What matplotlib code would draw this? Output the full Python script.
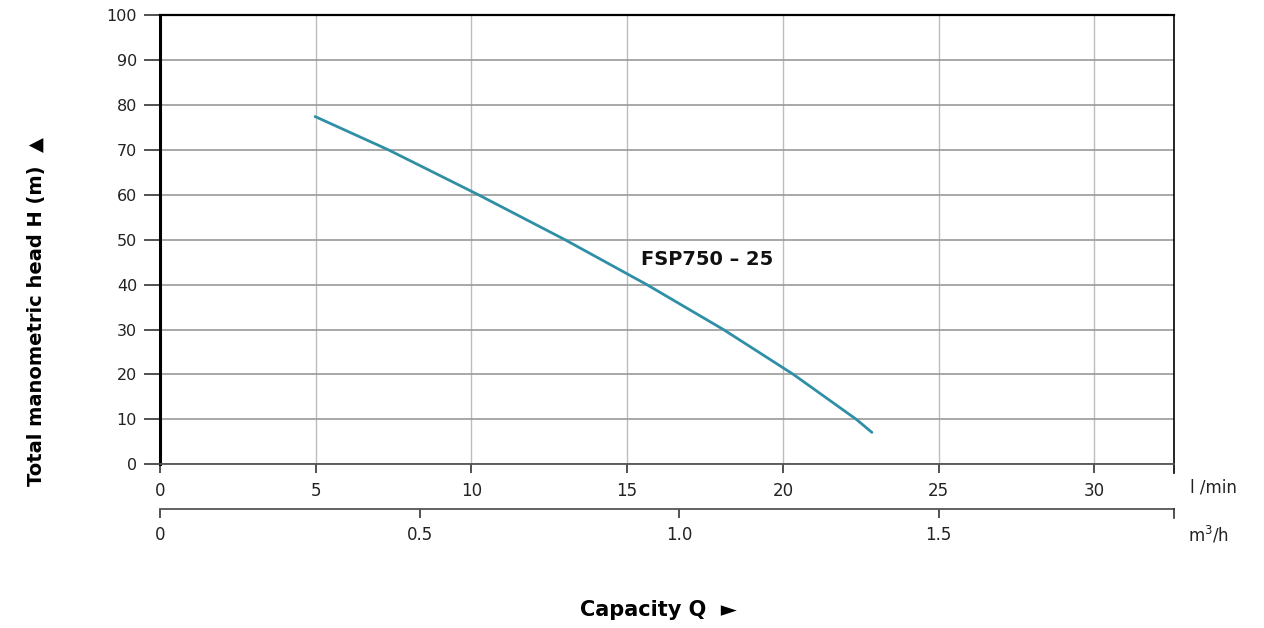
import matplotlib
matplotlib.use("Agg")
import matplotlib.pyplot as plt

plt.rcParams['font.family'] = ['DejaVu Sans']

# Data
q_lpm = [4.98, 7.33, 10.22, 13.0, 15.63, 18.09, 20.34, 22.36, 22.86]
head_m = [77.4, 70, 60, 50, 40, 30, 20, 10, 7.1]
curve_label = "FSP750 – 25"
x_ticks = [0, 5, 10, 15, 20, 25, 30]
y_ticks = [0, 10, 20, 30, 40, 50, 60, 70, 80, 90, 100]
m3h_ticks = [0, 0.5, 1.0, 1.5]
m3h_labels = ["0", "0.5", "1.0", "1.5"]
x_max = 32.56

fig = plt.figure(figsize=(12.64, 6.28), dpi=100)
ax = fig.add_axes([160/1264, 1-464.3/628, (1174-160)/1264, (464.3-15)/628])

ax.set_xlim(0, x_max)
ax.set_ylim(0, 100)
ax.set_xticks(x_ticks)
ax.set_yticks(y_ticks)
ax.set_xticklabels([str(t) for t in x_ticks], fontsize=12, color='#222222')
ax.set_yticklabels([str(t) for t in y_ticks], fontsize=11.5, color='#222222')

ax.grid(True, axis='y', color='#9a9a9a', linewidth=1.2)
ax.grid(True, axis='x', color='#bdbdbd', linewidth=1.0)
ax.set_axisbelow(True)

ax.tick_params(axis='y', direction='out', length=11.5, width=1.2, color='#333333', pad=5)
ax.tick_params(axis='x', direction='out', length=6.5, width=1.2, color='#333333', pad=6)

ax.spines['left'].set_linewidth(2.2)
ax.spines['left'].set_color('black')
ax.spines['top'].set_linewidth(1.6)
ax.spines['top'].set_color('black')
ax.spines['right'].set_linewidth(1.2)
ax.spines['right'].set_color('black')
ax.spines['bottom'].set_linewidth(1.3)
ax.spines['bottom'].set_color('#555555')

# extension of right border below axis
ax.plot([1, 1], [0, -0.02], transform=ax.transAxes, color='black', lw=1.2, clip_on=False)

ax.plot(q_lpm, head_m, color='#2E8FA6', linewidth=2.0, solid_capstyle='round', solid_joinstyle='round')
ax.text(15.44, 45.5, curve_label, fontsize=14, fontweight='bold', ha='left', va='center', color='#111111')

# secondary axis (m3/h)
sec = ax.secondary_xaxis(-0.0995, functions=(lambda x: x * 0.06, lambda x: x / 0.06))
sec.set_xticks(m3h_ticks)
sec.set_xticklabels(m3h_labels, fontsize=12, color='#222222')
sec.tick_params(direction='out', length=6.5, width=1.2, color='#333333', pad=6)
sec.spines['bottom'].set_color('#555555')
sec.spines['bottom'].set_linewidth(1.3)
ax.plot([1, 1], [-0.0995, -0.119], transform=ax.transAxes, color='#333333', lw=1.2, clip_on=False)

fig.text(1190/1264, 1-488/628, "l /min", fontsize=12, ha='left', va='center', color='#222222')
fig.text(1188/1264, 1-535/628, "m$^3$/h", fontsize=12, ha='left', va='center', color='#222222')

fig.text(37/1264, 1-312/628, "Total manometric head H (m)  ▲", fontsize=14, fontweight='bold',
         rotation=90, ha='center', va='center')
fig.text(658/1264, 1-610/628, "Capacity Q  ►", fontsize=15, fontweight='bold',
         ha='center', va='center')

fig.savefig("out.png", dpi=100, facecolor='white')
